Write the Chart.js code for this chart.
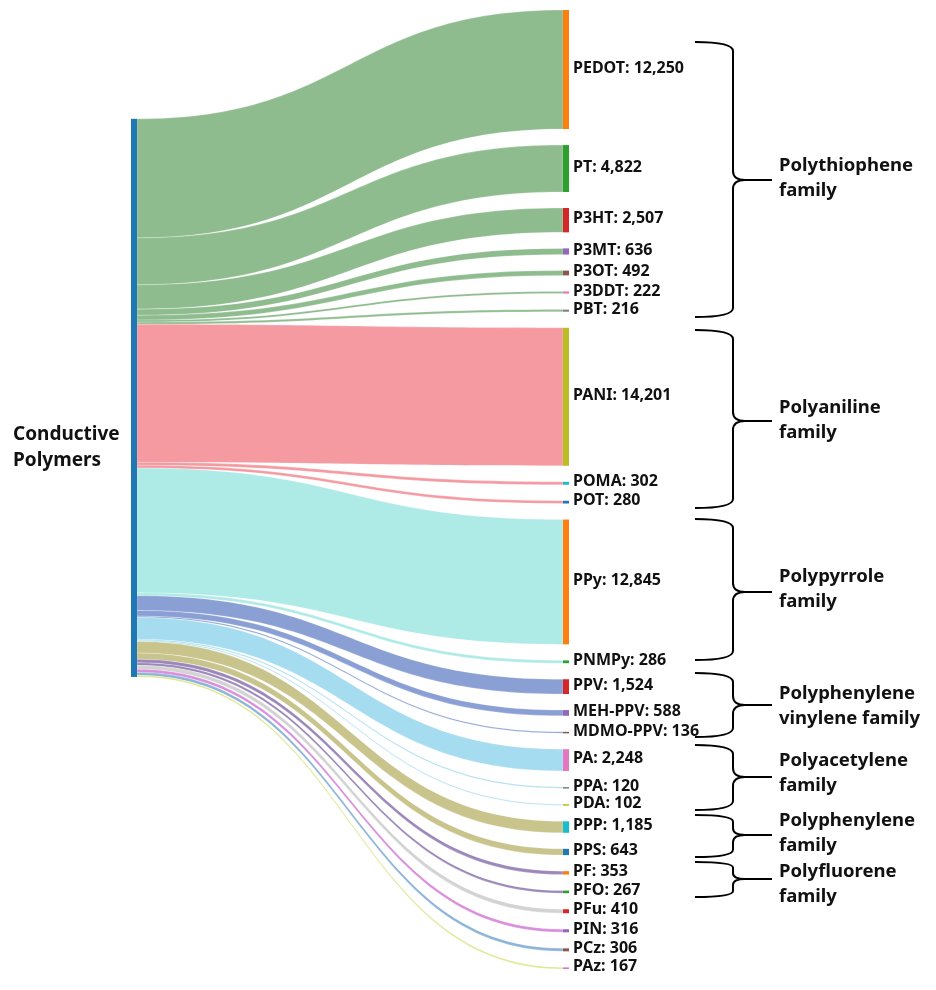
<!DOCTYPE html>
<html>
<head>
<meta charset="utf-8">
<script src="https://cdn.jsdelivr.net/npm/chart.js@4.4.1/dist/chart.umd.min.js"></script>
<style>
  html, body { margin: 0; padding: 0; background: #fff; }
  #wrap { width: 936px; height: 990px; position: relative; }
</style>
</head>
<body>
<div id="wrap"><canvas id="sankey"></canvas></div>
<script>
// data
const sourceLabel = ["Conductive", "Polymers"];
const targets = ["PEDOT", "PT", "P3HT", "P3MT", "P3OT", "P3DDT", "PBT",
  "PANI", "POMA", "POT",
  "PPy", "PNMPy",
  "PPV", "MEH-PPV", "MDMO-PPV",
  "PA", "PPA", "PDA",
  "PPP", "PPS",
  "PF", "PFO",
  "PFu", "PIN", "PCz", "PAz"];
const counts = [12250, 4822, 2507, 636, 492, 222, 216,
  14201, 302, 280,
  12845, 286,
  1524, 588, 136,
  2248, 120, 102,
  1185, 643,
  353, 267,
  410, 316, 306, 167];
const familyNames = [
  ["Polythiophene", "family"],
  ["Polyaniline", "family"],
  ["Polypyrrole", "family"],
  ["Polyphenylene", "vinylene family"],
  ["Polyacetylene", "family"],
  ["Polyphenylene", "family"],
  ["Polyfluorene", "family"],
];

// styles
const nodeColors = ["#ff7f0e", "#2ca02c", "#d62728", "#9467bd", "#8c564b", "#e377c2", "#7f7f7f",
  "#bcbd22", "#17becf", "#1f77b4", "#ff7f0e", "#2ca02c", "#d62728", "#9467bd", "#8c564b",
  "#e377c2", "#7f7f7f", "#bcbd22", "#17becf", "#1f77b4", "#ff7f0e", "#2ca02c", "#d62728",
  "#9467bd", "#8c564b", "#e377c2"];
const linkColors = ["#8fbc8f", "#8fbc8f", "#8fbc8f", "#8fbc8f", "#8fbc8f", "#8fbc8f", "#8fbc8f",
  "#f49aa0", "#f49aa0", "#f49aa0",
  "#aeeae6", "#aeeae6",
  "#8aa0d4", "#8aa0d4", "#8aa0d4",
  "#a6dcf0", "#a6dcf0", "#a6dcf0",
  "#c8c48c", "#c8c48c",
  "#9b87b9", "#9b87b9",
  "#d3d3d3", "#da8fdc", "#8cb4d8", "#dce68c"];
const sourceColor = "#1f77b4";

// layout (value units on y, pixels on x)
const nodePad = 1650;
const leftStart = 11200;
const leftX = 131, rightX = 563, nodeW = 6;
const totalSpan = counts.reduce((a, b) => a + b, 0) + nodePad * (counts.length - 1);

// braces drawn as annotations: [top, tip, bottom, label line 1 y, label line 2 y]
const braces = [
  [42, 180, 317, 167, 192],
  [330, 421, 508, 409, 434],
  [519, 592, 660, 578, 603],
  [673, 705, 737, 695, 720],
  [745, 777, 810, 762, 787],
  [815, 835, 857, 822, 847],
  [862, 879, 897, 873, 898],
];

function drawBrace(ctx, top, tip, bottom) {
  const x0 = 695, xs = 733, xt = 772;
  const r1 = Math.min(9, (tip - top) / 3);
  const r2 = Math.min(9, (bottom - tip) / 3);
  ctx.beginPath();
  ctx.moveTo(x0, top);
  ctx.quadraticCurveTo(xs, top, xs, top + r1);
  ctx.lineTo(xs, tip - r1);
  ctx.quadraticCurveTo(xs, tip, xs + 12, tip);
  ctx.lineTo(xt, tip);
  ctx.moveTo(xs + 12, tip);
  ctx.quadraticCurveTo(xs, tip, xs, tip + r2);
  ctx.lineTo(xs, bottom - r2);
  ctx.quadraticCurveTo(xs, bottom, x0, bottom);
  ctx.stroke();
}

const sankeyPlugin = {
  id: "sankey",
  afterDraw(chart) {
    const ctx = chart.ctx;
    const xs = chart.scales.x, ys = chart.scales.y;
    const px = (v) => xs.getPixelForValue(v);
    const py = (v) => ys.getPixelForValue(v);

    let cursor = 0;
    let lcursor = leftStart;
    const nodes = counts.map((v) => {
      const n = { s: cursor, e: cursor + v, ls: lcursor, le: lcursor + v };
      cursor += v + nodePad;
      lcursor += v;
      return n;
    });

    const x0 = px(leftX + nodeW), x1 = px(rightX);
    const xm = (x0 + x1) / 2;

    ctx.save();
    // links
    nodes.forEach((n, i) => {
      const a = py(n.ls), b = py(n.le), c = py(n.s), d = py(n.e);
      ctx.beginPath();
      ctx.moveTo(x0, a);
      ctx.bezierCurveTo(xm, a, xm, c, x1, c);
      ctx.lineTo(x1, d);
      ctx.bezierCurveTo(xm, d, xm, b, x0, b);
      ctx.closePath();
      ctx.fillStyle = linkColors[i];
      ctx.fill();
      ctx.strokeStyle = "rgba(255,255,255,0.6)";
      ctx.lineWidth = 0.4;
      ctx.stroke();
    });

    // source node
    ctx.fillStyle = sourceColor;
    ctx.fillRect(px(leftX), py(leftStart), px(leftX + nodeW) - px(leftX), py(lcursor) - py(leftStart));

    // target nodes + labels
    ctx.font = "bold 16px 'Noto Sans', sans-serif";
    ctx.textBaseline = "middle";
    ctx.textAlign = "left";
    nodes.forEach((n, i) => {
      const top = py(n.s), bot = py(n.e);
      ctx.fillStyle = nodeColors[i];
      ctx.fillRect(px(rightX), top, px(rightX + nodeW) - px(rightX), Math.max(bot - top, 1.5));
      ctx.fillStyle = "#111";
      ctx.fillText(targets[i] + ": " + counts[i].toLocaleString("en-US"), px(rightX + nodeW) + 4, (top + bot) / 2 - 1.5);
    });

    // source label
    ctx.font = "bold 19px 'Noto Sans', sans-serif";
    ctx.fillText(sourceLabel[0], 13, 435);
    ctx.fillText(sourceLabel[1], 13, 461);

    // braces and family labels
    ctx.strokeStyle = "#000";
    ctx.lineWidth = 2;
    ctx.font = "bold 18.5px 'Noto Sans', sans-serif";
    braces.forEach((br, i) => {
      drawBrace(ctx, br[0], br[1], br[2]);
      ctx.fillStyle = "#111";
      ctx.fillText(familyNames[i][0], 779, br[3] - 1);
      ctx.fillText(familyNames[i][1], 779, br[4] - 1);
    });
    ctx.restore();
  },
};

new Chart(document.getElementById("sankey"), {
  type: "scatter",
  data: { datasets: [] },
  options: {
    responsive: true,
    maintainAspectRatio: false,
    animation: false,
    layout: { padding: { top: 10, bottom: 21, left: 0, right: 0 } },
    plugins: { legend: { display: false }, tooltip: { enabled: false } },
    scales: {
      x: { type: "linear", display: false, min: 0, max: 936 },
      y: { type: "linear", display: false, min: 0, max: totalSpan, reverse: true },
    },
  },
  plugins: [sankeyPlugin],
});
</script>
</body>
</html>
